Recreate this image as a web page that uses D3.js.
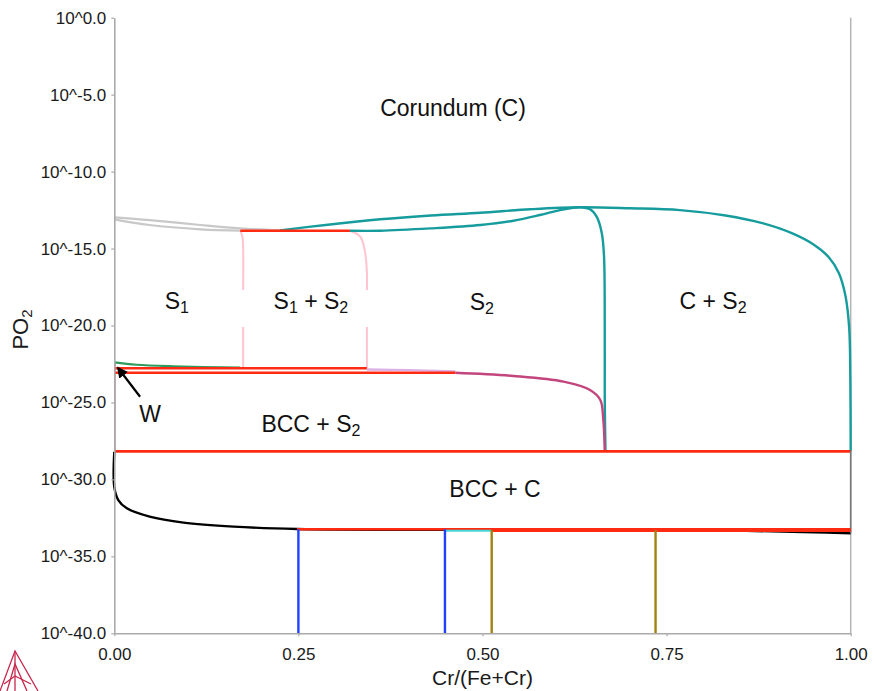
<!DOCTYPE html>
<html>
<head>
<meta charset="utf-8">
<script src="https://cdn.jsdelivr.net/npm/d3@7"></script>
<style>
	html, body { margin: 0; padding: 0; background: #fff; }
	svg { display: block; font-family: "Liberation Sans", Arial, Helvetica, sans-serif; }
</style>
</head>
<body>
<svg id="chart" width="874" height="691"></svg>
<script>
(function(){
	'use strict';

	// axis ticks
	var xTicks = [0, 0.25, 0.5, 0.75, 1];
	var yTicks = [-40, -35, -30, -25, -20, -15, -10, -5, 0];

	// phase boundaries as [Cr/(Fe+Cr), log10(PO2)]
	var grayUpper = [[0, -12.97], [0.048, -13.15], [0.117, -13.47], [0.171, -13.69], [0.225, -13.82]];
	var grayLower = [[0, -13.1], [0.048, -13.47], [0.117, -13.75], [0.171, -13.84]];
	var tealUpper = [[0.225, -13.82], [0.29, -13.45], [0.361, -13.1], [0.43, -12.85], [0.497, -12.67], [0.565, -12.45], [0.632, -12.32], [0.70, -12.38], [0.768, -12.5], [0.83, -12.85], [0.88, -13.35], [0.92, -14.0], [0.95, -14.75], [0.97, -15.55], [0.984, -16.6], [0.993, -18.1], [0.998, -20.2], [0.9995, -23.5], [1.0, -28.18]];
	var tealLower = [[0.320, -13.84], [0.361, -13.84], [0.429, -13.69], [0.497, -13.47], [0.542, -13.19], [0.578, -12.82], [0.605, -12.5], [0.623, -12.35], [0.632, -12.32]];
	var tealVertical = [[0.632, -12.32], [0.646, -12.45], [0.655, -12.93], [0.662, -14.0], [0.665, -15.5], [0.666, -20], [0.666, -24.8], [0.667, -28.18]];
	var pinkLeft = [[0.171, -13.84], [0.174, -14.23], [0.175, -15.0], [0.175, -17.7], null, [0.175, -20.1], [0.175, -22.78]];
	var pinkRight = [[0.320, -13.84], [0.334, -14.23], [0.340, -15.1], [0.343, -16.5], [0.343, -17.7], null, [0.343, -20.1], [0.343, -22.78]];
	var redTop = [[0.171, -13.84], [0.320, -13.84]];
	var greenW = [[0, -22.4], [0.03, -22.55], [0.08, -22.65], [0.171, -22.74]];
	var redUpperS1 = [[0, -22.78], [0.343, -22.78]];
	var redLowerS1 = [[0, -23.07], [0.463, -23.07]];
	var lavender = [[0.343, -22.86], [0.40, -22.9], [0.463, -22.98]];
	var magenta = [[0.463, -23.07], [0.542, -23.28], [0.61, -23.65], [0.646, -24.19], [0.66, -24.84], [0.664, -26.1], [0.666, -28.18]];
	var magentaAxis = [[0.001, -22.4], [0.001, -28.18]];
	var redBCC = [[0, -28.18], [1, -28.18]];
	var blackBCC = [[0, -28.2], [0, -30.5], [0.0054, -31.34], [0.017, -31.88], [0.048, -32.42], [0.094, -32.81], [0.162, -33.07], [0.248, -33.22], [0.5, -33.28], [0.836, -33.33], [1.0, -33.5]];
	var redLow = [[0.248, -33.24], [1.0, -33.24]];
	var redLowRight = [[0.512, -33.32], [1.0, -33.32]];
	var cyanLow = [[0.449, -33.33], [0.512, -33.33]];
	var rightEdge = [[1, -28.18], [1, -33.5]];
	var blueLeft = [[0.25, -33.24], [0.25, -40]];
	var blueRight = [[0.449, -33.24], [0.449, -40]];
	var oliveLeft = [[0.5125, -33.3], [0.5125, -40]];
	var oliveRight = [[0.735, -33.3], [0.735, -40]];

	// region labels: text parts, subscripts marked with sub
	var labels = [
		{ x: 0.46, y: -5.87, parts: [{ t: "Corundum (C)" }] },
		{ x: 0.085, y: -18.41, parts: [{ t: "S" }, { t: "1", sub: true }] },
		{ x: 0.267, y: -18.41, parts: [{ t: "S" }, { t: "1", sub: true }, { t: " + S" }, { t: "2", sub: true }] },
		{ x: 0.499, y: -18.47, parts: [{ t: "S" }, { t: "2", sub: true }] },
		{ x: 0.813, y: -18.41, parts: [{ t: "C + S" }, { t: "2", sub: true }] },
		{ x: 0.267, y: -26.4, parts: [{ t: "BCC + S" }, { t: "2", sub: true }] },
		{ x: 0.517, y: -30.62, parts: [{ t: "BCC + C" }] },
		{ x: 0.0485, y: -25.75, parts: [{ t: "W" }] }
	];
	var arrowW = [[0.035, -24.63], [0.0054, -22.78]];

	var curves = [
		{ points: grayUpper, color: "#c8c8c8", width: 2.2 },
		{ points: grayLower, color: "#c8c8c8", width: 2.2 },
		{ points: pinkLeft, color: "#ffc4cf", width: 2 },
		{ points: pinkRight, color: "#ffc4cf", width: 2 },
		{ points: tealUpper, color: "#179c9e", width: 2.4 },
		{ points: tealLower, color: "#179c9e", width: 2.4 },
		{ points: tealVertical, color: "#179c9e", width: 2.4 },
		{ points: lavender, color: "#dcb0e6", width: 2.4 },
		{ points: magenta, color: "#c2457e", width: 2.4 },
		{ points: magentaAxis, color: "#d07aa6", width: 1.2 },
		{ points: greenW, color: "#2e9a5c", width: 2.2 },
		{ points: redTop, color: "#ff2a12", width: 2.6 },
		{ points: redUpperS1, color: "#ff2a12", width: 2.6 },
		{ points: redLowerS1, color: "#ff2a12", width: 2.6 },
		{ points: redBCC, color: "#ff2a12", width: 2.6 },
		{ points: blackBCC, color: "#000000", width: 2.4 },
		{ points: rightEdge, color: "#777777", width: 1.6 },
		{ points: redLow, color: "#ff2a12", width: 2.6 },
		{ points: redLowRight, color: "#ff2a12", width: 3 },
		{ points: cyanLow, color: "#45d6d6", width: 2 },
		{ points: blueLeft, color: "#2042ff", width: 2.4 },
		{ points: blueRight, color: "#2042ff", width: 2.4 },
		{ points: oliveLeft, color: "#a08212", width: 2.4 },
		{ points: oliveRight, color: "#a08212", width: 2.4 }
	];

	var svg = d3.select("#chart");
	var left = 114.3, right = 850.7, top = 17.7, bottom = 633.3;

	var x = d3.scaleLinear().domain([0, 1]).range([left, right]);
	var y = d3.scaleLinear().domain([-40, 0]).range([bottom, top]);

	// smooth through the read points
	var line = d3.line()
		.defined(function(d){ return d !== null; })
		.x(function(d){ return x(d[0]); })
		.y(function(d){ return y(d[1]); })
		.curve(d3.curveCatmullRom.alpha(0.5));

	var straight = d3.line()
		.x(function(d){ return x(d[0]); })
		.y(function(d){ return y(d[1]); });

	// right frame line
	svg.append("line")
		.attr("x1", x(1)).attr("x2", x(1))
		.attr("y1", y(0)).attr("y2", y(-40))
		.attr("stroke", "#b4b4b4")
		.attr("stroke-width", 1.5);

	var g = svg.append("g");
	curves.forEach(function(c){
		g.append("path")
			.datum(c.points)
			.attr("fill", "none")
			.attr("stroke", c.color)
			.attr("stroke-width", c.width)
			.attr("stroke-linejoin", "round")
			.attr("d", line);
	});

	// axes
	var xAxis = d3.axisBottom(x)
		.tickValues(xTicks)
		.tickSize(3)
		.tickSizeOuter(0)
		.tickPadding(12)
		.tickFormat(d3.format(".2f"));
	var yAxis = d3.axisLeft(y)
		.tickValues(yTicks)
		.tickSize(3)
		.tickSizeOuter(0)
		.tickPadding(5)
		.tickFormat(function(d){ return "10^" + d.toFixed(1); });

	var gx = svg.append("g")
		.attr("transform", "translate(0," + bottom + ")")
		.call(xAxis);
	var gy = svg.append("g")
		.attr("transform", "translate(" + left + ",0)")
		.call(yAxis);

	[gx, gy].forEach(function(a){
		a.attr("font-family", null).attr("font-size", null);
		a.select(".domain").attr("stroke", "#aaaaaa").attr("stroke-width", 1.6);
		a.selectAll(".tick line").attr("stroke", "#aaaaaa").attr("stroke-width", 1.2);
		a.selectAll(".tick text").attr("fill", "#1a1a1a").style("font-size", "17px");
	});

	// axis titles
	svg.append("text")
		.attr("x", (left + right) / 2)
		.attr("y", 685)
		.attr("text-anchor", "middle")
		.style("font-size", "21px")
		.attr("fill", "#1a1a1a")
		.text("Cr/(Fe+Cr)");

	var yTitle = svg.append("text")
		.attr("transform", "translate(28," + ((top + bottom) / 2 + 4) + ") rotate(-90)")
		.attr("text-anchor", "middle")
		.style("font-size", "22px")
		.attr("fill", "#1a1a1a");
	yTitle.append("tspan").text("PO");
	yTitle.append("tspan").attr("dy", 4).style("font-size", "15px").text("2");

	// region labels
	labels.forEach(function(l){
		var t = svg.append("text")
			.attr("x", x(l.x))
			.attr("y", y(l.y))
			.attr("dy", "0.36em")
			.attr("text-anchor", "middle")
			.style("font-size", "23px")
			.attr("fill", "#111");
		var shifted = false;
		l.parts.forEach(function(p){
			var span = t.append("tspan").text(p.t);
			if(p.sub){
				span.style("font-size", "16px").attr("dy", shifted ? null : 4);
				shifted = true;
			}else if(shifted){
				span.attr("dy", -4);
				shifted = false;
			}
		});
	});

	// arrow pointing at W
	svg.append("defs").append("marker")
		.attr("id", "head")
		.attr("viewBox", "0 0 10 10")
		.attr("refX", 8).attr("refY", 5)
		.attr("markerWidth", 5).attr("markerHeight", 5)
		.attr("markerUnits", "strokeWidth")
		.attr("orient", "auto")
		.append("path")
		.attr("d", "M0,0 L10,5 L0,10 z")
		.attr("fill", "#000");
	svg.append("path")
		.datum(arrowW)
		.attr("d", straight)
		.attr("stroke", "#000")
		.attr("stroke-width", 2.2)
		.attr("fill", "none")
		.attr("marker-end", "url(#head)");

	// logo at the lower left corner
	var logo = svg.append("g")
		.attr("fill", "none")
		.attr("stroke", "#c8284e")
		.attr("stroke-width", 1.3);
	logo.append("path").attr("d", "M0,691 L15,651 L38,691");
	logo.append("path").attr("d", "M7,691 L15,664 L27,691");
	logo.append("path").attr("d", "M15,651 L15,691");
	logo.append("path").attr("d", "M4,684 L15,676 L31,684");
}());
</script>
</body>
</html>
